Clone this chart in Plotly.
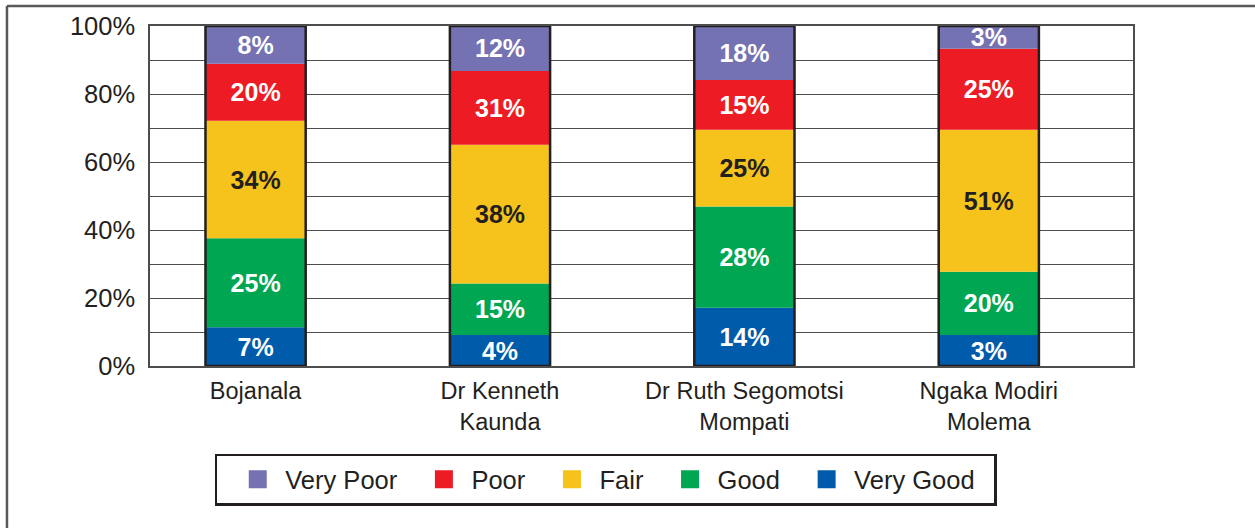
import plotly.graph_objects as go
import numpy as np

categories = ["Bojanala", "Dr Kenneth<br>Kaunda", "Dr Ruth Segomotsi<br>Mompati", "Ngaka Modiri<br>Molema"]
series_names = ["Very Good", "Good", "Fair", "Poor", "Very Poor"]
legend_order = ["Very Poor", "Poor", "Fair", "Good", "Very Good"]

# segment heights as drawn (share of bar, %)
very_good = [11.4, 9.1, 17.1, 9.1]
good = [26.2, 15.2, 29.8, 18.6]
fair = [34.5, 40.8, 22.6, 41.8]
poor = [16.8, 21.7, 14.6, 23.8]
very_poor = [11.1, 13.2, 15.9, 6.7]

# printed labels
very_good_lbl = [7, 4, 14, 3]
good_lbl = [25, 15, 28, 20]
fair_lbl = [34, 38, 25, 51]
poor_lbl = [20, 31, 15, 25]
very_poor_lbl = [8, 12, 18, 3]

y_ticks = [0, 20, 40, 60, 80, 100]
y_ticktext = ["0%", "20%", "40%", "60%", "80%", "100%"]

colors = {"Very Poor": "#7472B3", "Poor": "#ED1C24", "Fair": "#F6C31C",
          "Good": "#00A651", "Very Good": "#005BAA"}
text_colors = {"Very Poor": "white", "Poor": "white", "Fair": "#231F20",
               "Good": "white", "Very Good": "white"}

values = {"Very Good": very_good, "Good": good, "Fair": fair, "Poor": poor, "Very Poor": very_poor}
labels = {"Very Good": very_good_lbl, "Good": good_lbl, "Fair": fair_lbl, "Poor": poor_lbl, "Very Poor": very_poor_lbl}

x = np.arange(len(categories))
BAR_W = 0.41
FONT = "Liberation Sans, Arial, sans-serif"
DARK = "#231F20"
PAD = "\u00a0" * 2

fig = go.Figure()
base = np.zeros(len(categories))
for name in series_names:
    v = np.array(values[name], dtype=float)
    fig.add_trace(go.Bar(
        x=x, y=v, base=base.copy(), width=BAR_W, name=name,
        marker=dict(color=colors[name], line=dict(width=0)),
        text=[f"{t}%" for t in labels[name]],
        textposition="inside", insidetextanchor="middle", textangle=0,
        constraintext="none", cliponaxis=False,
        textfont=dict(family=FONT, size=25, color=text_colors[name], weight="bold"),
        showlegend=False, hoverinfo="skip",
    ))
    base = base + v

# bar outlines
fig.add_trace(go.Bar(
    x=x, y=base, base=np.zeros(len(categories)), width=BAR_W,
    marker=dict(color="rgba(0,0,0,0)", line=dict(color=DARK, width=2.5)),
    showlegend=False, hoverinfo="skip",
))

# legend entries
for name in legend_order:
    fig.add_trace(go.Scatter(
        x=[None], y=[None], mode="markers", name=name + PAD,
        marker=dict(symbol="square", size=16, color=colors[name],
                    line=dict(color=colors[name], width=2)),
    ))

fig.update_layout(
    width=1255, height=528,
    barmode="overlay",
    plot_bgcolor="white", paper_bgcolor="white",
    margin=dict(l=150, r=122, t=24, b=162),
    font=dict(family=FONT, color=DARK),
    xaxis=dict(
        range=[-0.432, 3.59], tickmode="array", tickvals=x, ticktext=categories,
        tickfont=dict(size=23.5, color=DARK), showgrid=False,
        showline=True, linecolor="#4D4D4D", linewidth=1.5, mirror=True,
        ticks="", ticklabelstandoff=3, zeroline=False,
    ),
    yaxis=dict(
        range=[0, 100], tickmode="array", tickvals=y_ticks, ticktext=y_ticktext,
        tickfont=dict(size=25.5, color=DARK), showgrid=True, gridcolor="#4D4D4D", gridwidth=1.3,
        minor=dict(dtick=10, showgrid=True, gridcolor="#4D4D4D", gridwidth=1.3),
        showline=True, linecolor="#4D4D4D", linewidth=1.5, mirror=True,
        ticks="", ticklabelstandoff=8, zeroline=False,
    ),
    legend=dict(
        orientation="h", x=0.0661, y=-0.258, xanchor="left", yanchor="top",
        bordercolor=DARK, borderwidth=2.5, bgcolor="white", itemwidth=45,
        title=dict(text="\u00a0", side="left", font=dict(size=10)),
        font=dict(size=25.5, color=DARK, family=FONT),
    ),
    shapes=[
        dict(type="line", xref="paper", yref="paper", x0=-0.1455, x1=1.13, y0=1.0587, y1=1.0587,
             line=dict(color="#595959", width=2.5)),
        dict(type="line", xref="paper", yref="paper", x0=-0.1455, x1=-0.1455, y0=1.0587, y1=-0.48,
             line=dict(color="#595959", width=2.5)),
    ],
)

fig.write_html("out.html", config={"displayModeBar": False},
               post_script="document.body.style.margin='0px';")
